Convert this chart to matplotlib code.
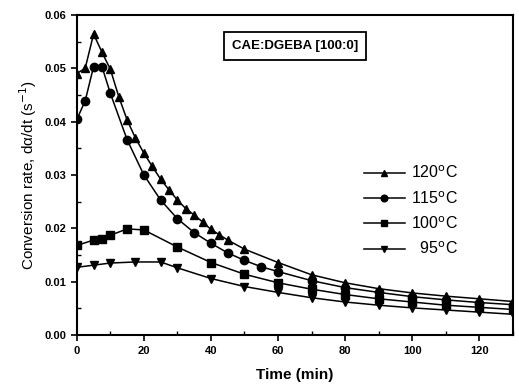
import matplotlib
matplotlib.use("Agg")
import matplotlib.pyplot as plt
from matplotlib.ticker import MultipleLocator

plt.rcParams['font.family'] = ['Liberation Sans', 'DejaVu Sans']

t120 = [0, 2.5, 5, 7.5, 10, 12.5, 15, 17.5, 20, 22.5, 25, 27.5, 30, 32.5, 35, 37.5, 40, 42.5, 45, 50, 60, 70, 80, 90, 100, 110, 120, 130]
v120 = [0.0490, 0.0500, 0.0564, 0.0530, 0.0498, 0.0447, 0.0403, 0.0369, 0.0341, 0.0316, 0.0292, 0.0272, 0.0253, 0.0237, 0.0225, 0.0212, 0.0198, 0.0188, 0.0178, 0.0161, 0.0136, 0.0113, 0.0098, 0.0087, 0.0079, 0.0073, 0.0068, 0.0063]

t115 = [0, 2.5, 5, 7.5, 10, 15, 20, 25, 30, 35, 40, 45, 50, 55, 60, 70, 80, 90, 100, 110, 120, 130]
v115 = [0.0404, 0.0439, 0.0503, 0.0503, 0.0453, 0.0366, 0.0300, 0.0253, 0.0218, 0.0192, 0.0172, 0.0154, 0.0140, 0.0128, 0.0119, 0.0102, 0.0089, 0.0080, 0.0072, 0.0066, 0.0061, 0.0057]

t100 = [0, 5, 7.5, 10, 15, 20, 30, 40, 50, 60, 70, 80, 90, 100, 110, 120, 130]
v100 = [0.0168, 0.0178, 0.0180, 0.0187, 0.0199, 0.0197, 0.0165, 0.0136, 0.0114, 0.0098, 0.0086, 0.0076, 0.0068, 0.0062, 0.0056, 0.0052, 0.0048]

t95 = [0, 5, 10, 17.5, 25, 30, 40, 50, 60, 70, 80, 90, 100, 110, 120, 130]
v95 = [0.0127, 0.0131, 0.0135, 0.0137, 0.0137, 0.0126, 0.0106, 0.0091, 0.0080, 0.0070, 0.0062, 0.0056, 0.0051, 0.0047, 0.0043, 0.0039]

series = [
    (t120, v120, '^', '120$^{\\mathrm{o}}$C'),
    (t115, v115, 'o', '115$^{\\mathrm{o}}$C'),
    (t100, v100, 's', '100$^{\\mathrm{o}}$C'),
    (t95, v95, 'v', '  95$^{\\mathrm{o}}$C'),
]

fig = plt.figure(figsize=(5.19, 3.91), dpi=100)
ax = fig.add_axes([0.148, 0.143, 0.840, 0.819])

for t, v, m, lab in series:
    ax.plot(t, v, color='black', lw=1.1, marker=m, ms=6, label=lab)

ax.set_xlim(0, 130)
ax.set_ylim(0, 0.06)
ax.xaxis.set_major_locator(MultipleLocator(20))
ax.xaxis.set_minor_locator(MultipleLocator(10))
ax.yaxis.set_major_locator(MultipleLocator(0.01))
ax.yaxis.set_minor_locator(MultipleLocator(0.005))
ax.set_yticklabels([f'{y:.2f}' for y in ax.get_yticks()])
ax.tick_params(which='major', direction='out', length=4, width=1.2, labelsize=8)
ax.tick_params(which='minor', direction='in', length=3, width=1)
for lbl in ax.get_xticklabels() + ax.get_yticklabels():
    lbl.set_fontweight('bold')
for s in ax.spines.values():
    s.set_linewidth(1.5)

ax.set_xlabel('Time (min)', fontsize=11, fontweight='bold', labelpad=9)
ax.set_ylabel('Conversion rate, d\u03b1/dt (s$^{-1}$)', fontsize=11)

ax.text(0.50, 0.902, 'CAE:DGEBA [100:0]', transform=ax.transAxes, ha='center', va='center',
        fontsize=9.5, fontweight='bold',
        bbox=dict(boxstyle='square,pad=0.6', fc='white', ec='black', lw=1.3))

leg = ax.legend(loc='upper left', bbox_to_anchor=(0.643, 0.552), frameon=False, fontsize=11.5,
                handlelength=2.6, labelspacing=0.55, handletextpad=0.35, markerscale=0.8,
                borderaxespad=0)

fig.savefig('out.png', dpi=100)
